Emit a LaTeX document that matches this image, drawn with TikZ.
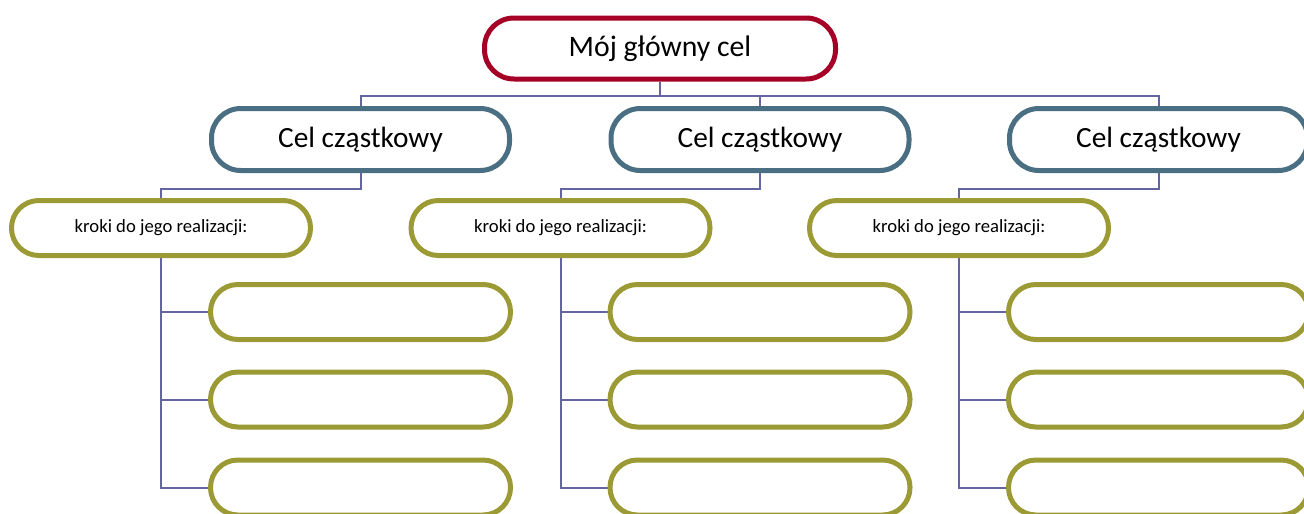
\documentclass[tikz,border=0pt]{standalone}
\usepackage{fontspec}
\setmainfont{Carlito}
\usetikzlibrary{backgrounds}
\definecolor{goalred}{HTML}{A50026}
\definecolor{subblue}{HTML}{4A6E82}
\definecolor{stepolive}{HTML}{9B9A34}
\definecolor{linkc}{HTML}{6464A0}
\tikzset{
  pill/.style={draw, fill=white, line width=3.75pt, inner sep=0pt, text=black},
  goalbox/.style={pill, rounded corners=22pt, draw=goalred, minimum width=351*0.75pt, minimum height=61*0.75pt, font=\fontsize{22.3}{26}\selectfont},
  subbox/.style={pill, rounded corners=22pt, draw=subblue, minimum width=298*0.75pt, minimum height=62*0.75pt, font=\fontsize{22}{26}\selectfont},
  stepbox/.style={pill, rounded corners=20.5pt, draw=stepolive, minimum width=299*0.75pt, minimum height=55*0.75pt, font=\fontsize{14}{16}\selectfont},
  emptybox/.style={pill, rounded corners=20.5pt, draw=stepolive, minimum width=300*0.75pt, minimum height=55*0.75pt},
  link/.style={draw=linkc, line width=1.5pt}
}
\begin{document}
\begin{tikzpicture}[x=0.75pt,y=-0.75pt]
\useasboundingbox (0,0) rectangle (1304,514);
\clip (0,0) rectangle (1304,514);
\node[goalbox] (top) at (660,48.5) {\raisebox{-2pt}{Mój główny cel}};
\foreach \i/\dx in {1/0,2/399.5,3/798} {
  \node[subbox] (c\i) at (360.5+\dx,139.5) {\raisebox{-2.5pt}{Cel cząstkowy}};
  \node[stepbox] (k\i) at (161+\dx,228) {kroki do jego realizacji:};
  \node[emptybox] (e\i a) at (360.5+\dx,312) {};
  \node[emptybox] (e\i b) at (360.5+\dx,399.5) {};
  \node[emptybox] (e\i c) at (360.5+\dx,487.5) {};
}
\begin{scope}[on background layer]
\foreach \i in {1,2,3} {
  \draw[link] (top.south) -- ++(0,14) -| (c\i.north);
  \draw[link] (c\i.south) -- ++(0,16) -| (k\i.north);
  \draw[link] (k\i.south) |- (e\i a.west);
  \draw[link] (k\i.south) |- (e\i b.west);
  \draw[link] (k\i.south) |- (e\i c.west);
}
\end{scope}
\end{tikzpicture}
\end{document}
